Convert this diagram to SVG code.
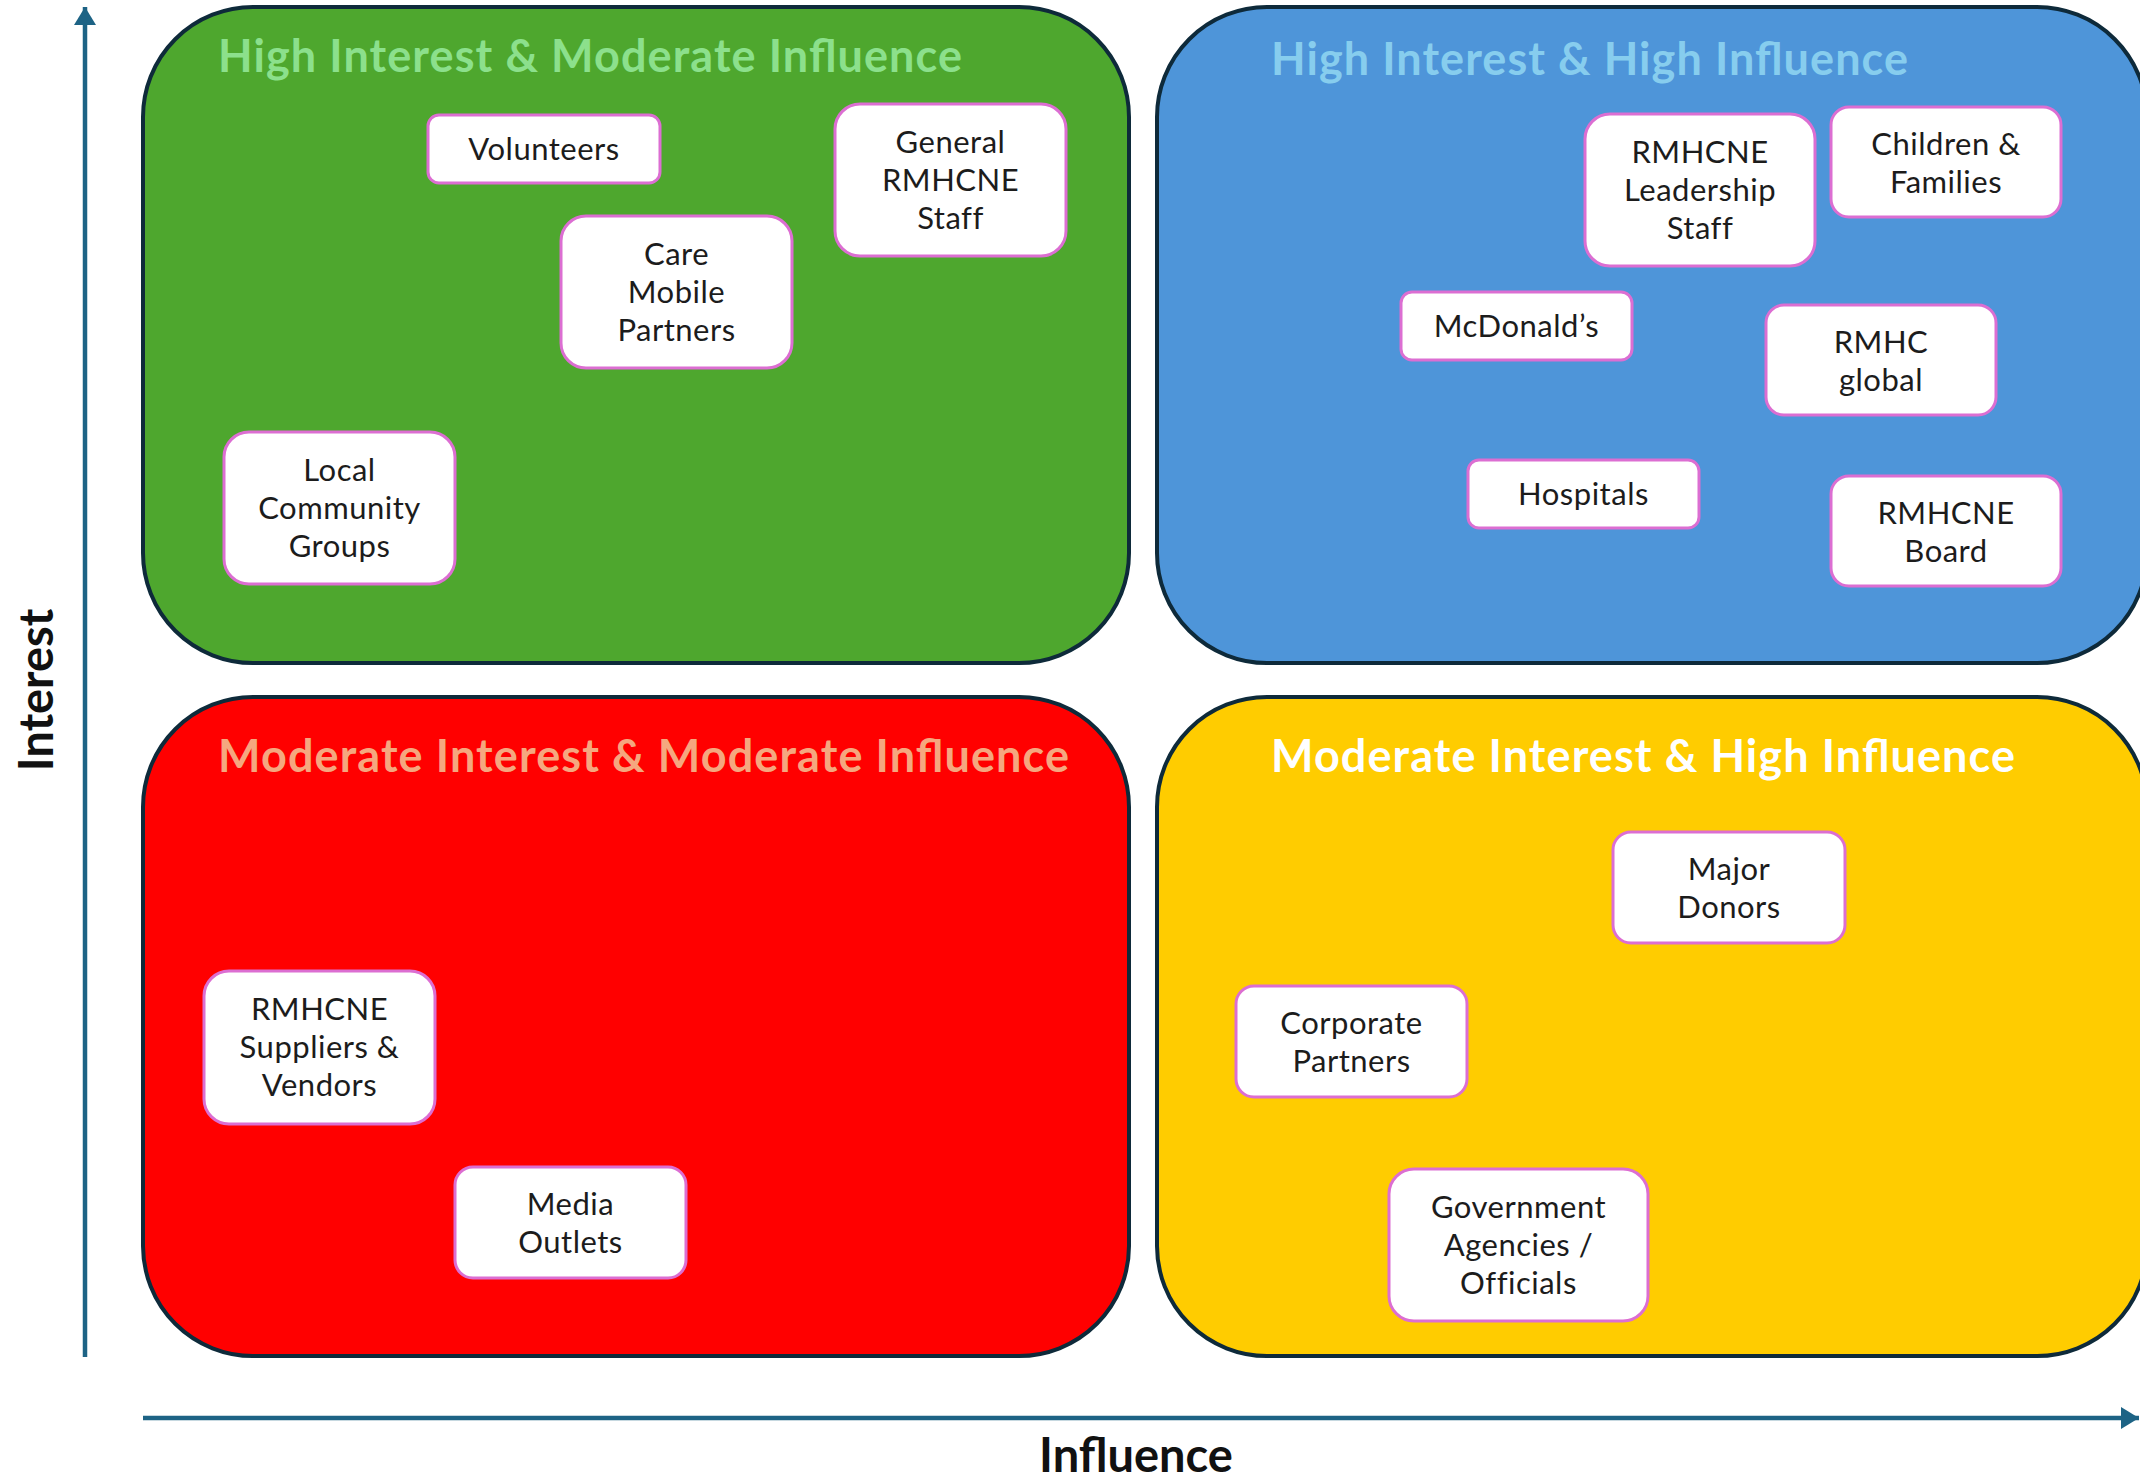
<svg xmlns="http://www.w3.org/2000/svg" width="2140" height="1478" viewBox="0 0 2140 1478">
<defs>
<style>
.quad{stroke:#0e2a3a;stroke-width:4}
.title{font-family:Lato,"Open Sans",sans-serif;font-weight:bold;font-size:45px}
.node rect{fill:#ffffff;stroke:#dc6ed2;stroke-width:3}
.node text{font-family:Lato,"Open Sans",sans-serif;font-size:31px;letter-spacing:0.5px;fill:#1c1c1c;text-anchor:middle}
.axis{stroke:#1d6385;stroke-width:4.5;fill:none}
.axislabel{font-family:Lato,"Open Sans",sans-serif;font-weight:bold;font-size:47px;fill:#111;text-anchor:middle}
</style>
<marker id="arr" markerUnits="userSpaceOnUse" viewBox="0 0 18 22" refX="18" refY="11" markerWidth="18" markerHeight="22" orient="auto">
<path d="M0,0 L18,11 L0,22 z" fill="#1d6385"/>
</marker>
</defs>

<g id="quadrants">
<rect id="q-green" class="quad" x="143" y="7" width="986" height="656" rx="110" fill="#4ea72e"/>
<rect id="q-blue" class="quad" x="1157" y="7" width="990" height="656" rx="110" fill="#4e95d9"/>
<rect id="q-red" class="quad" x="143" y="697" width="986" height="659" rx="110" fill="#ff0000"/>
<rect id="q-yellow" class="quad" x="1157" y="697" width="990" height="659" rx="110" fill="#ffcc00"/>
<text class="title" x="218" y="72" fill="#8ce08c" textLength="744">High Interest &amp; Moderate Influence</text>
<text class="title" x="1271" y="75" fill="#87cdee" textLength="637">High Interest &amp; High Influence</text>
<text class="title" x="218" y="772" fill="#f5a77f" textLength="851">Moderate Interest &amp; Moderate Influence</text>
<text class="title" x="1271" y="772" fill="#ffffff" textLength="744">Moderate Interest &amp; High Influence</text>
</g>

<g id="connectors">
<line class="axis" x1="85" y1="1357" x2="85" y2="7" marker-end="url(#arr)"/>
<line class="axis" x1="143" y1="1418" x2="2139" y2="1418" marker-end="url(#arr)"/>
</g>

<text class="axislabel" transform="translate(53,690) rotate(-90)" x="0" y="0">Interest</text>
<text class="axislabel" x="1136" y="1472">Influence</text>

<g id="n-volunteers" class="node"><rect x="428" y="115" width="232" height="68" rx="11"/><text x="544" y="159.5">Volunteers</text></g>
<g id="n-general-staff" class="node"><rect x="835" y="104" width="231" height="152" rx="25"/><text x="950.5" y="152.5">General</text><text x="950.5" y="190.5">RMHCNE</text><text x="950.5" y="228.5">Staff</text></g>
<g id="n-care-mobile" class="node"><rect x="561" y="216" width="231" height="152" rx="25"/><text x="676.5" y="264.5">Care</text><text x="676.5" y="302.5">Mobile</text><text x="676.5" y="340.5">Partners</text></g>
<g id="n-local-community" class="node"><rect x="224" y="432" width="231" height="152" rx="25"/><text x="339.5" y="480.5">Local</text><text x="339.5" y="518.5">Community</text><text x="339.5" y="556.5">Groups</text></g>

<g id="n-leadership" class="node"><rect x="1585" y="114" width="230" height="152" rx="25"/><text x="1700" y="162.5">RMHCNE</text><text x="1700" y="200.5">Leadership</text><text x="1700" y="238.5">Staff</text></g>
<g id="n-children" class="node"><rect x="1831" y="107" width="230" height="110" rx="18"/><text x="1946" y="154.5">Children &amp;</text><text x="1946" y="192.5">Families</text></g>
<g id="n-mcdonalds" class="node"><rect x="1401" y="292" width="231" height="68" rx="11"/><text x="1516.5" y="336.5">McDonald’s</text></g>
<g id="n-rmhc-global" class="node"><rect x="1766" y="305" width="230" height="110" rx="18"/><text x="1881" y="352.5">RMHC</text><text x="1881" y="390.5">global</text></g>
<g id="n-hospitals" class="node"><rect x="1468" y="460" width="231" height="68" rx="11"/><text x="1583.5" y="504.5">Hospitals</text></g>
<g id="n-board" class="node"><rect x="1831" y="476" width="230" height="110" rx="18"/><text x="1946" y="523.5">RMHCNE</text><text x="1946" y="561.5">Board</text></g>

<g id="n-suppliers" class="node"><rect x="204" y="971" width="231" height="153" rx="25"/><text x="319.5" y="1020">RMHCNE</text><text x="319.5" y="1058">Suppliers &amp;</text><text x="319.5" y="1096">Vendors</text></g>
<g id="n-media" class="node"><rect x="455" y="1167" width="231" height="111" rx="18"/><text x="570.5" y="1214.5">Media</text><text x="570.5" y="1252.5">Outlets</text></g>

<g id="n-major-donors" class="node"><rect x="1613" y="832" width="232" height="111" rx="18"/><text x="1729" y="879.5">Major</text><text x="1729" y="917.5">Donors</text></g>
<g id="n-corporate" class="node"><rect x="1236" y="986" width="231" height="111" rx="18"/><text x="1351.5" y="1033.5">Corporate</text><text x="1351.5" y="1071.5">Partners</text></g>
<g id="n-government" class="node"><rect x="1389" y="1169" width="259" height="152" rx="25"/><text x="1518.5" y="1217.5">Government</text><text x="1518.5" y="1255.5">Agencies /</text><text x="1518.5" y="1293.5">Officials</text></g>
</svg>
